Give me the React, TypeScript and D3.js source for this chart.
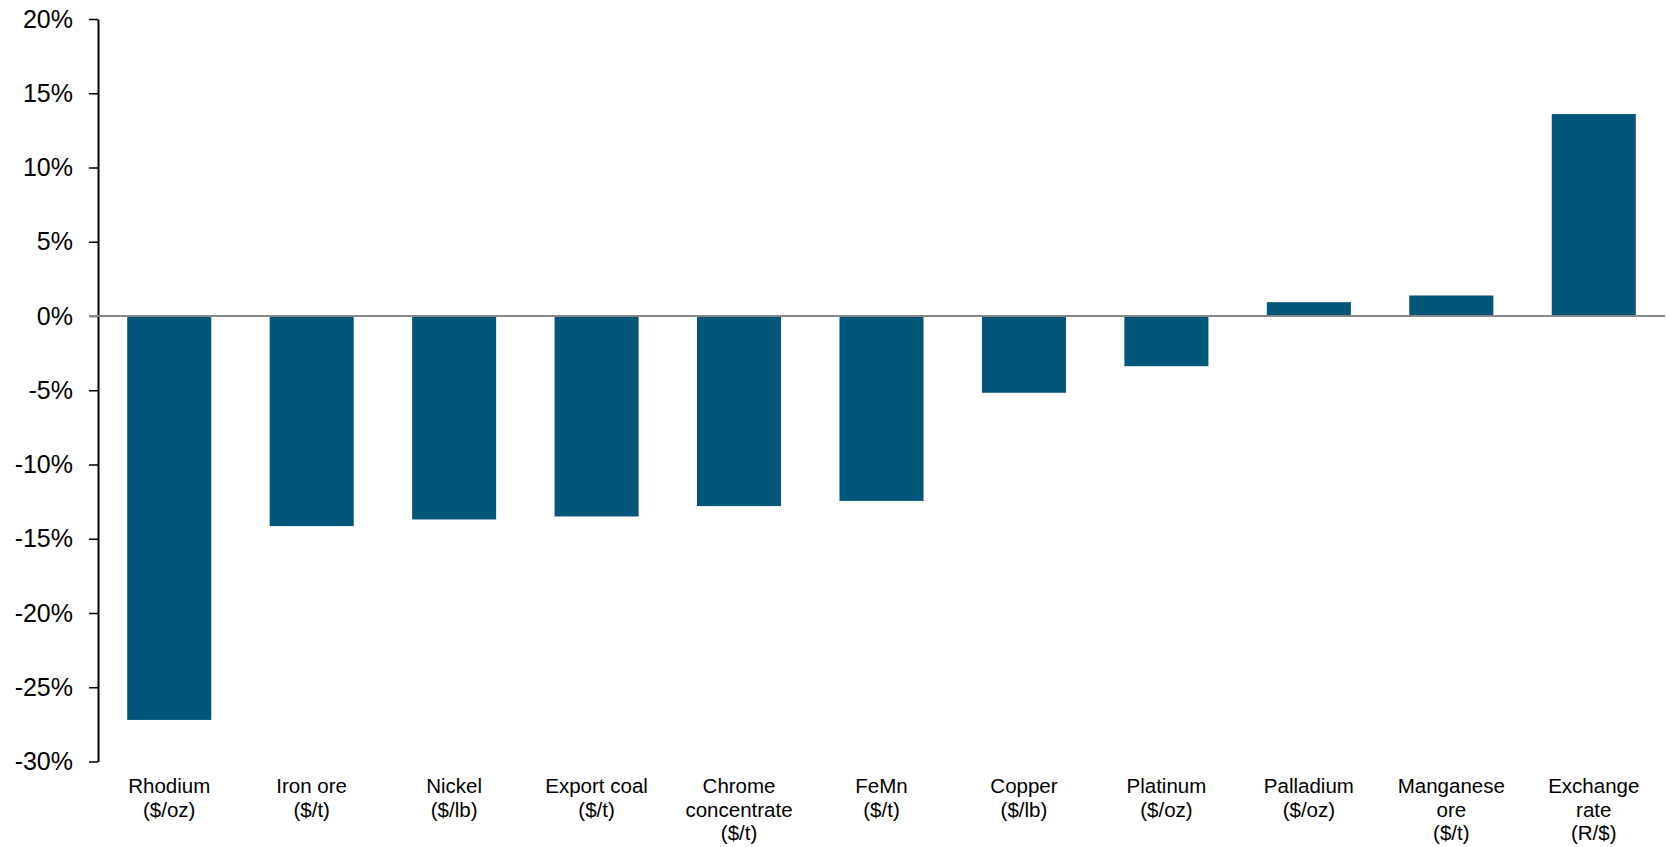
import React, { useEffect, useRef } from "react";
import * as d3 from "d3";

// Year-on-year change in commodity prices and the rand/dollar exchange rate
const categories: string[][] = [
  ["Rhodium", "($/oz)"],
  ["Iron ore", "($/t)"],
  ["Nickel", "($/lb)"],
  ["Export coal", "($/t)"],
  ["Chrome", "concentrate", "($/t)"],
  ["FeMn", "($/t)"],
  ["Copper", "($/lb)"],
  ["Platinum", "($/oz)"],
  ["Palladium", "($/oz)"],
  ["Manganese", "ore", "($/t)"],
  ["Exchange", "rate", "(R/$)"],
];
const changePct: number[] = [-27.2, -14.15, -13.7, -13.5, -12.8, -12.45, -5.17, -3.38, 0.93, 1.38, 13.6];
const yTicks: number[] = [20, 15, 10, 5, 0, -5, -10, -15, -20, -25, -30];

const W = 1667;
const H = 847;
const margin = { left: 98, right: 2, top: 19, bottom: 85.5 };
const BAR_COLOR = "#02567a";
const FONT = "'Liberation Sans', Arial, sans-serif";

export default function App() {
  const ref = useRef<SVGSVGElement | null>(null);

  useEffect(() => {
    const svg = d3.select(ref.current);
    svg.selectAll("*").remove();

    const keys = categories.map((c) => c.join(" "));
    const x = d3
      .scaleBand<string>()
      .domain(keys)
      .range([margin.left, W - margin.right])
      .paddingInner(0.41)
      .paddingOuter(0.205);
    const y = d3.scaleLinear().domain([-30, 20]).range([H - margin.bottom, margin.top]);

    // bars
    svg
      .append("g")
      .selectAll("rect")
      .data(changePct)
      .join("rect")
      .attr("x", (_, i) => x(keys[i])!)
      .attr("width", x.bandwidth())
      .attr("y", (d) => Math.min(y(d), y(0)))
      .attr("height", (d) => Math.abs(y(d) - y(0)))
      .attr("fill", BAR_COLOR);

    // y axis
    const yAxis = d3
      .axisLeft(y)
      .tickValues(yTicks)
      .tickSize(9)
      .tickSizeOuter(0)
      .tickPadding(16)
      .tickFormat((d) => `${d}%`);
    const gy = svg.append("g").attr("transform", `translate(${margin.left},0)`).call(yAxis);
    gy.select(".domain").attr("stroke", "#000").attr("stroke-width", 2);
    gy.selectAll(".tick line").attr("stroke", "#000").attr("stroke-width", 1.5);
    gy.selectAll(".tick text")
      .attr("font-family", FONT)
      .attr("font-size", 25)
      .attr("fill", "#000");

    // zero line
    svg
      .append("line")
      .attr("x1", margin.left - 9)
      .attr("x2", W - margin.right)
      .attr("y1", y(0))
      .attr("y2", y(0))
      .attr("stroke", "#868686")
      .attr("stroke-width", 2);

    // category labels
    const lab = svg
      .append("g")
      .selectAll("text")
      .data(categories)
      .join("text")
      .attr("x", (_, i) => x(keys[i])! + x.bandwidth() / 2)
      .attr("y", 793)
      .attr("text-anchor", "middle")
      .attr("font-family", FONT)
      .attr("font-size", 20.5)
      .attr("fill", "#000");
    lab
      .selectAll("tspan")
      .data((d) => d)
      .join("tspan")
      .attr("x", function () {
        return (this as SVGTSpanElement).parentElement!.getAttribute("x");
      })
      .attr("dy", (_, j) => (j === 0 ? 0 : 23.5))
      .text((d) => d);
  }, []);

  return (
    <svg
      ref={ref}
      width={W}
      height={H}
      style={{ position: "absolute", left: 0, top: 0, background: "#fff" }}
    />
  );
}
